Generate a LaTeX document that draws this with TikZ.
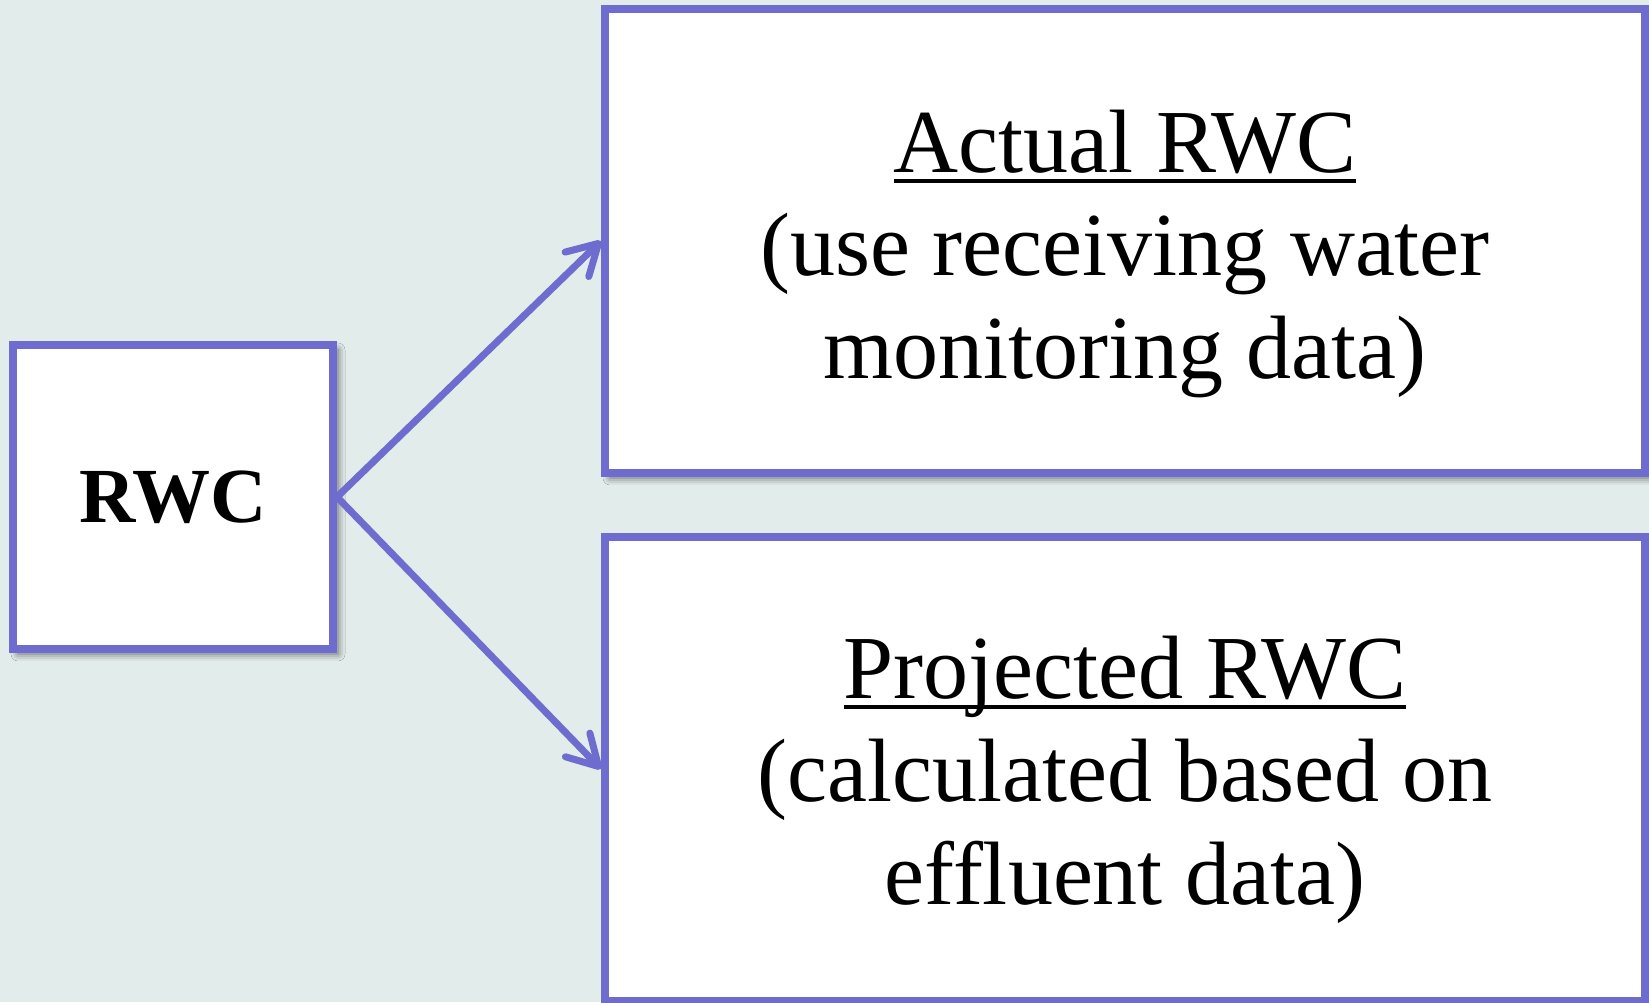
\documentclass[tikz,border=0pt]{standalone}
\usepackage{fontspec}
\setmainfont{Liberation Serif}
\usetikzlibrary{arrows.meta,shadows.blur}

\definecolor{rwcblue}{RGB}{110,108,206}
\definecolor{rwcbg}{RGB}{226,236,234}

% underline at a fixed depth, through descenders
\newcommand{\rwcul}[1]{\setbox0\hbox{#1}\rlap{\rule[-5pt]{\wd0}{2pt}}\box0}

\begin{document}
\begin{tikzpicture}[x=0.5pt,y=0.5pt,
    box/.style={rectangle, draw=rwcblue, line width=4pt, fill=white,
      blur shadow={shadow xshift=2.5pt, shadow yshift=-2.5pt, shadow blur radius=3.5pt, shadow opacity=60}},
    boxtext/.style={align=center, font=\fontsize{45}{51.5}\selectfont},
    link/.style={draw=rwcblue, line width=3.5pt, -{Straight Barb[length=15pt,width=17pt,round]}}]

    % Background
    \fill[rwcbg] (0,0) rectangle (1649,1002);
    \useasboundingbox (0,0) rectangle (1649,1002);

    % Source
    \node[box, minimum width=160pt, minimum height=152pt,
      font=\bfseries\fontsize{39}{46}\selectfont] (rwc) at (173,505) {RWC};

    % Actual RWC
    \node[box, minimum width=520pt, minimum height=232pt] (actual) at (1125,761) {};
    \node[boxtext] (actualtext) at ([yshift=-6.5pt]actual.center)
      {\rwcul{Actual RWC}\\(use receiving water\\monitoring data)};

    % Projected RWC
    \node[box, minimum width=520pt, minimum height=232pt] (projected) at (1125,233) {};
    \node[boxtext] (projectedtext) at ([yshift=-5.5pt]projected.center)
      {\rwcul{Projected RWC}\\(calculated based on\\effluent data)};

    % Arrows
    \draw[link] (rwc.east) -- (actual.west);
    \draw[link] (rwc.east) -- (projected.west);
\end{tikzpicture}
\end{document}
